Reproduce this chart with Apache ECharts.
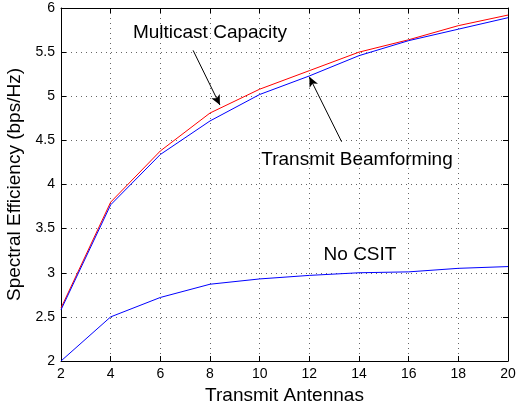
<!DOCTYPE html>
<html>
<head>
<meta charset="utf-8">
<script src="https://cdn.jsdelivr.net/npm/echarts@6/dist/echarts.min.js"></script>
<style>html,body{margin:0;padding:0;background:#fff;}#c{width:520px;height:403px;}</style>
</head>
<body>
<div id="c"></div>
<script>
// ---- data ----
var antennas = [2, 4, 6, 8, 10, 12, 14, 16, 18, 20];
var multicastCapacity = [2.60, 3.80, 4.38, 4.81, 5.08, 5.29, 5.50, 5.64, 5.80, 5.92];
var transmitBeamforming = [2.58, 3.77, 4.34, 4.72, 5.02, 5.23, 5.46, 5.63, 5.76, 5.89];
var noCsit = [2.00, 2.50, 2.72, 2.87, 2.93, 2.97, 3.00, 3.01, 3.05, 3.07];
var xTicks = [2, 4, 6, 8, 10, 12, 14, 16, 18, 20];
var yTicks = [2, 2.5, 3, 3.5, 4, 4.5, 5, 5.5, 6];
// annotations (data coordinates)
var labelTexts = ['Multicast Capacity', 'Transmit Beamforming', 'No CSIT'];
var labelAt = [[8.0, 5.72], [13.92, 4.28], [14.04, 3.20]];
var arrowFrom = [[7.32, 5.52], [13.30, 4.485]];
var arrowTo = [[8.40, 4.90], [12.0, 5.22]];

var FONT = "'Liberation Sans', Arial, Helvetica, sans-serif";
function pairs(ys) { return antennas.map(function (x, i) { return [x, ys[i]]; }); }

var chart = echarts.init(document.getElementById('c'), null, { renderer: 'canvas' });
var axisCommon = {
  axisLine: { show: true, lineStyle: { color: '#000', width: 1 } },
  axisTick: { show: true, inside: true, length: 5, lineStyle: { color: '#000' } }
};
var gridLine = { show: true, lineStyle: { color: '#666', type: [1, 4], width: 1 } };
chart.setOption({
  animation: false,
  backgroundColor: '#fff',
  grid: { left: 61, right: 12, top: 8, bottom: 42, show: false, containLabel: false, outerBoundsMode: 'none' },
  xAxis: [
    Object.assign({
      type: 'value', min: xTicks[0], max: xTicks[xTicks.length - 1], interval: 2,
      name: 'Transmit Antennas', nameLocation: 'middle', nameGap: 18,
      nameTextStyle: { fontFamily: FONT, fontSize: 19, color: '#000' },
      axisLabel: { fontFamily: FONT, fontSize: 14, color: '#000', margin: 6 },
      splitLine: gridLine
    }, axisCommon),
    Object.assign({
      type: 'value', position: 'top', min: xTicks[0], max: xTicks[xTicks.length - 1], interval: 2,
      axisLabel: { show: false }, splitLine: { show: false }
    }, axisCommon)
  ],
  yAxis: [
    Object.assign({
      type: 'value', min: yTicks[0], max: yTicks[yTicks.length - 1], interval: 0.5,
      name: 'Spectral Efficiency (bps/Hz)', nameLocation: 'middle', nameGap: 28,
      nameTextStyle: { fontFamily: FONT, fontSize: 19, color: '#000' },
      axisLabel: { fontFamily: FONT, fontSize: 14, color: '#000', margin: 6 },
      splitLine: gridLine
    }, axisCommon),
    Object.assign({
      type: 'value', position: 'right', min: yTicks[0], max: yTicks[yTicks.length - 1], interval: 0.5,
      axisLabel: { show: false }, splitLine: { show: false }
    }, axisCommon)
  ],
  series: [
    {
      name: 'No CSIT', type: 'line', data: pairs(noCsit), symbol: 'none',
      lineStyle: { color: '#0000ff', width: 1 }
    },
    {
      name: 'Multicast Capacity', type: 'line', data: pairs(multicastCapacity), symbol: 'none',
      lineStyle: { color: '#ff0000', width: 1 }
    },
    {
      name: 'Transmit Beamforming', type: 'line', data: pairs(transmitBeamforming), symbol: 'none',
      lineStyle: { color: '#0000ff', width: 1 },
      markLine: {
        silent: true, symbol: ['none', 'arrow'], symbolSize: [7, 10],
        lineStyle: { color: '#000', width: 1, type: 'solid' },
        label: { show: false },
        data: arrowFrom.map(function (p, i) { return [{ coord: p }, { coord: arrowTo[i] }]; })
      },
      markPoint: {
        silent: true, symbol: 'circle', symbolSize: 0,
        itemStyle: { color: 'transparent' },
        label: { show: true, position: 'inside', color: '#000', fontFamily: FONT, fontSize: 19 },
        data: labelTexts.map(function (t, i) {
          return { coord: labelAt[i], value: t, label: { formatter: t } };
        })
      }
    }
  ]
});
</script>
</body>
</html>
